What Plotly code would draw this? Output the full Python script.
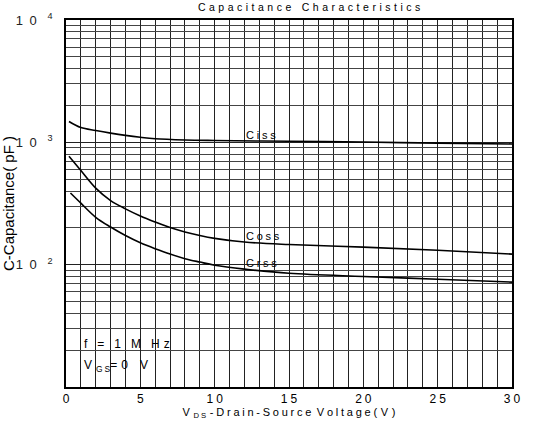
import math
import plotly.graph_objects as go

# Data
vds_ciss = [0.2, 1, 2, 3, 4, 5, 6, 8, 10, 15, 20, 25, 30]
ciss = [1480, 1320, 1250, 1190, 1140, 1100, 1070, 1045, 1035, 1020, 1005, 985, 970]

vds_coss = [0.2, 1, 2, 3, 4, 5, 6, 7, 8, 9, 10, 12, 15, 20, 25, 30]
coss = [770, 588, 422, 334, 286, 250, 223, 201, 185, 173, 164, 153, 146, 139, 131, 122]

vds_crss = [0.3, 1, 2, 3, 4, 5, 6, 7, 8, 9, 10, 12, 15, 20, 25, 30]
crss = [385, 318, 244, 203, 173, 151, 135, 122, 112, 105, 99, 92, 85, 80, 76, 72]

x_tickvals = [0, 5, 10, 15, 20, 25, 30]
x_ticklabels = ["0", "5", "10", "15", "20", "25", "30"]
y_tickvals = [10, 100, 1000, 10000]
y_exponents = ["", "2", "3", "4"]

curve_labels = ["Ciss", "Coss", "Crss"]
label_x = [12, 12, 12]
label_y = [1150, 172, 104]

SP1 = "\u2005"   # quarter-em space
SP2 = "\u2004"   # third-em space
EN = "\u2002"    # en space


def spaced(s, gap=SP2, word_gap=EN + EN):
    return word_gap.join(gap.join(ch for ch in w) for w in s.split(" "))


FONT = "Liberation Sans, Arial, sans-serif"
GRID = "#222222"

x_ticktext = [spaced(t, gap=SP1) for t in x_ticklabels]
y_ticktext = ["" if e == "" else "1" + EN + "0" + EN + SP2 + "<sup>" + e + "</sup>" for e in y_exponents]

fig = go.Figure()
for xs, ys in [(vds_ciss, ciss), (vds_coss, coss), (vds_crss, crss)]:
    fig.add_trace(go.Scatter(x=xs, y=ys, mode="lines",
                             line=dict(color="black", width=1.6, shape="spline", smoothing=1.0),
                             showlegend=False, hoverinfo="skip"))

for txt, x, y in zip(curve_labels, label_x, label_y):
    fig.add_annotation(x=x, y=math.log10(y), xref="x", yref="y", text=spaced(txt, gap=SP1),
                       showarrow=False, xanchor="left", yanchor="middle",
                       font=dict(family=FONT, size=11, color="black"))

G = EN + SP2
f_text = "f" + G + "=" + G + "1" + G + "M" + G + "H" + SP2 + "z"
v_text = "V" + SP2 + "<sub>G" + SP1 + "S</sub>=" + SP2 + "0" + EN + EN + "V"
fig.add_annotation(x=1.05, y=math.log10(22.6), xref="x", yref="y", text=f_text, showarrow=False,
                   xanchor="left", yanchor="middle", font=dict(family=FONT, size=12, color="black"))
fig.add_annotation(x=1.05, y=math.log10(14.9), xref="x", yref="y", text=v_text, showarrow=False,
                   xanchor="left", yanchor="middle", font=dict(family=FONT, size=12, color="black"))

x_title = "V" + SP2 + "<sub>D" + SP1 + "S</sub>" + SP2 + spaced("-Drain-Source", gap=SP1) + EN + \
          spaced("Voltage(", gap=SP1) + SP2 + "V" + SP2 + ")"

fig.update_layout(
    width=549, height=423,
    margin=dict(l=66, r=37, t=20, b=36, autoexpand=False),
    paper_bgcolor="white", plot_bgcolor="white",
    font=dict(family=FONT, size=11, color="black"),
    title=dict(text=spaced("Capacitance Characteristics", gap=SP2),
               x=0.545, xanchor="center", xref="paper", yref="container", y=0.992, yanchor="top",
               font=dict(family=FONT, size=10.5, color="black")),
    xaxis=dict(range=[0, 30], tickvals=x_tickvals, ticktext=x_ticktext,
               showgrid=True, gridcolor=GRID, gridwidth=1,
               minor=dict(dtick=1, showgrid=True, gridcolor=GRID, gridwidth=1),
               showline=True, linecolor="black", linewidth=1.5, mirror=True,
               ticks="", zeroline=False, automargin=False,
               tickfont=dict(family=FONT, size=12, color="black"),
               title=dict(text=x_title, standoff=0, font=dict(family=FONT, size=11, color="black"))),
    yaxis=dict(type="log", range=[1, 4], tickvals=y_tickvals, ticktext=y_ticktext,
               showgrid=True, gridcolor=GRID, gridwidth=1,
               minor=dict(dtick="D1", showgrid=True, gridcolor="#444444", gridwidth=1),
               showline=True, linecolor="black", linewidth=1.5, mirror=True,
               ticks="", zeroline=False, automargin=False, ticklabelstandoff=9,
               tickfont=dict(family=FONT, size=13, color="#222222"),
               title=dict(text="C-Capacitance( pF )", standoff=4,
                          font=dict(family=FONT, size=15, color="black"))),
)

fig.write_html("out.html", config={"displayModeBar": False},
               post_script="document.body.style.margin='0';")
